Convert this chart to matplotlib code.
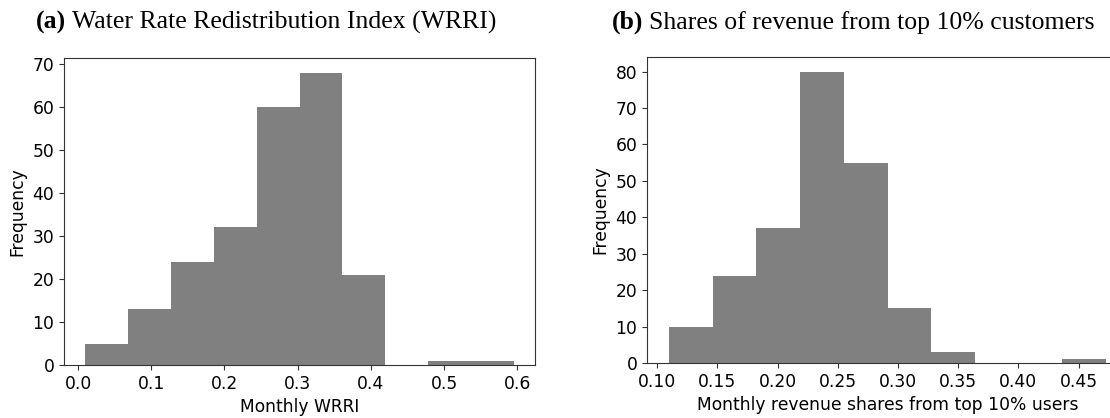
import numpy as np
import matplotlib.pyplot as plt
from matplotlib.ticker import MultipleLocator

# histogram bins (edges) and counts
wrri_edges = np.linspace(0.01, 0.595, 11)
wrri_counts = [5, 13, 24, 32, 60, 68, 21, 0, 1, 1]

share_edges = np.linspace(0.1096, 0.4729, 11)
share_counts = [10, 24, 37, 80, 55, 15, 3, 0, 0, 1]

W, H = 1110, 418
fig = plt.figure(figsize=(W / 100, H / 100), dpi=100)

ax1 = fig.add_axes([64 / W, 1 - 365 / H, (535 - 64) / W, (365 - 58) / H])
ax2 = fig.add_axes([647 / W, 1 - 363 / H, (1128 - 647) / W, (363 - 57) / H])

ax1.hist(wrri_edges[:-1], bins=wrri_edges, weights=wrri_counts, color='gray')
ax2.hist(share_edges[:-1], bins=share_edges, weights=share_counts, color='gray')

fs = 12.3
ax1.set_xlabel('Monthly WRRI', fontsize=fs)
ax2.set_xlabel('Monthly revenue shares from top 10% users', fontsize=fs)
for ax in (ax1, ax2):
    ax.set_ylabel('Frequency', fontsize=fs)
    ax.tick_params(labelsize=fs, color='#333333')
    ax.yaxis.set_major_locator(MultipleLocator(10))
    for s in ax.spines.values():
        s.set_color('#333333')
ax1.set_xticks([0.0, 0.1, 0.2, 0.3, 0.4, 0.5, 0.6])
ax2.set_xticks([0.10, 0.15, 0.20, 0.25, 0.30, 0.35, 0.40, 0.45])

# panel titles: bold tag + regular text, serif
titles = [(36, '(a)', 'Water Rate Redistribution Index (WRRI)'),
          (612, '(b)', 'Shares of revenue from top 10% customers')]
fig.canvas.draw()
r = fig.canvas.get_renderer()
for x, tag, txt in titles:
    t = fig.text(x / W, 1 - 29 / H, tag, fontsize=18.5, fontweight='bold',
                 family='Liberation Serif', va='baseline')
    bb = t.get_window_extent(r)
    fig.text((bb.x1 + 6) / W, 1 - 29 / H, txt, fontsize=18.5,
             family='Liberation Serif', va='baseline')

fig.savefig('out.png', dpi=100)
